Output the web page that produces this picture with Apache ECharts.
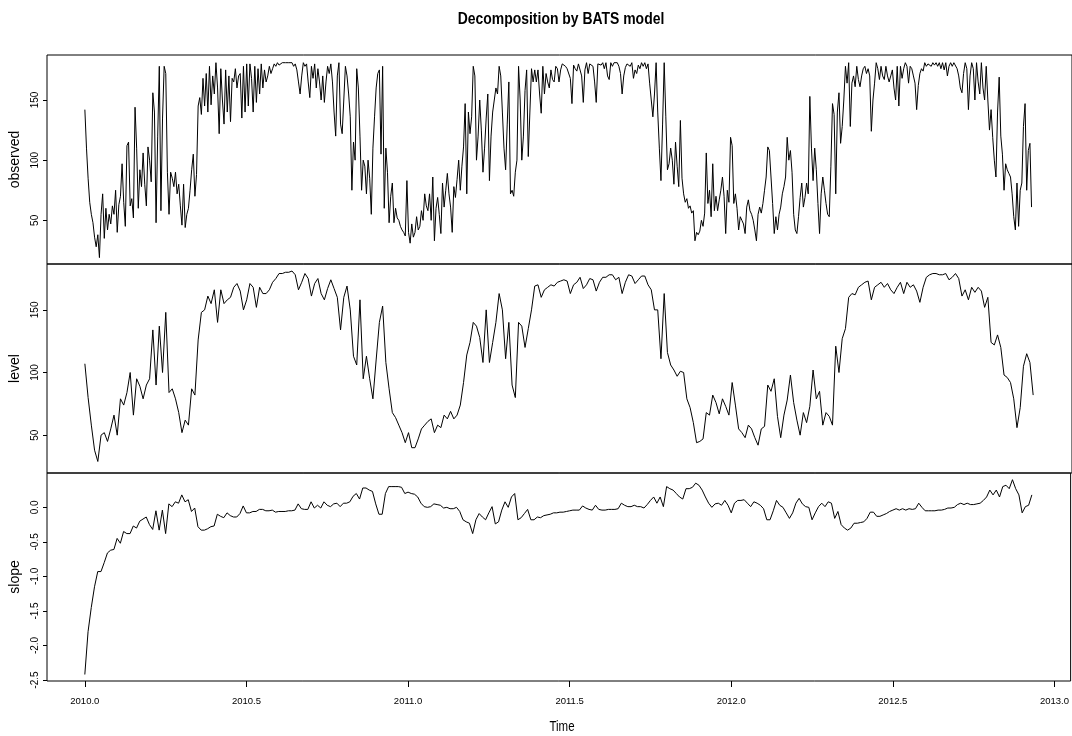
<!DOCTYPE html>
<html><head><meta charset="utf-8">
<script src="https://cdn.jsdelivr.net/npm/echarts@6/dist/echarts.min.js"></script>
<style>html,body{margin:0;padding:0;background:#fff}#c{width:1072px;height:736px}</style>
</head><body><div id="c"></div>
<script>
// time base (daily-ish sampling of the ts, in years)
const startYear = 2010.0;
const obsStep = 0.005;
const compStep = 0.01;

const observed = [
142,110,85,65,55,48,36,28,38,19,
55,72,35,60,42,55,47,62,55,75,
40,63,70,97,65,45,112,115,62,68,
52,144,110,60,92,78,106,80,62,111,
100,82,156,140,48,120,178,58,135,178,
172,90,55,90,85,78,90,72,80,62,
46,80,44,55,60,75,92,105,70,88,
145,152,138,168,145,172,140,178,146,170,
155,181,160,122,176,150,130,175,140,170,
132,168,165,176,160,170,172,135,178,140,
180,145,180,168,140,178,148,176,155,180,
160,175,165,170,178,172,176,180,178,181,
179,180,181,180,181,180,181,180,181,178,
180,175,165,155,170,181,178,180,165,152,
178,168,180,160,176,165,150,170,148,165,
178,172,180,165,140,120,170,181,130,122,
150,178,170,155,
136,75,115,100,176,160,
120,75,100,95,72,100,85,55,110,136,
160,172,175,105,178,60,110,90,48,70,
81,48,60,52,50,45,42,40,37,83,
40,31,47,36,40,53,42,45,58,50,
72,62,58,72,50,86,33,60,69,55,
39,81,61,75,89,72,61,40,78,69,
84,100,75,95,111,147,72,140,122,136,
178,170,100,120,150,125,90,110,135,155,
83,120,140,150,160,155,178,170,140,110,
92,130,165,72,75,70,90,100,178,150,
100,120,158,175,103,140,176,165,175,165,
175,155,139,178,155,172,165,160,175,167,
165,178,176,165,175,180,180,178,176,175,
168,147,179,176,174,180,181,170,148,175,
181,172,180,181,178,165,148,180,181,179,
181,176,181,170,167,181,178,181,180,181,
178,172,155,170,177,180,181,178,181,168,
175,172,179,176,181,178,181,176,180,164,
150,136,155,181,140,110,83,130,181,136,
92,97,110,100,80,115,95,78,133,85,
72,65,68,60,62,56,58,
33,40,38,
41,50,45,56,106,64,75,53,97,58,
70,58,67,75,86,70,39,75,65,119,
112,64,72,60,42,53,50,47,39,61,
67,58,55,50,42,33,55,61,56,64,
75,86,111,108,86,64,39,53,42,55,
61,72,78,86,119,100,108,90,55,42,
39,53,69,81,61,69,81,72,153,110,
83,110,92,64,39,72,86,75,64,55,
53,95,147,138,72,140,156,114,128,150,
178,164,181,128,164,170,161,178,167,161,
170,176,178,172,176,170,124,150,164,181,
176,167,178,170,167,178,170,165,170,175,
160,150,178,145,178,168,176,181,178,164,
178,176,170,164,142,162,172,176,174,181,
178,180,181,178,181,179,181,178,181,176,
181,175,181,170,178,181,178,181,180,176,
170,160,156,172,181,176,142,170,181,176,
150,181,165,155,181,160,150,178,150,
125,142,119,100,86,140,169,120,105,75,97,
92,89,86,72,53,42,81,45,75,81,
128,147,75,108,114,61
];

const level = [
107,80,58,38,29,50,52,45,55,66,
50,79,74,84,100,66,95,89,79,90,
95,134,90,137,100,148,84,87,79,68,
52,62,58,87,82,126,148,150,161,155,
166,140,166,155,158,160,168,171,165,150,
158,171,168,152,168,163,163,166,172,175,
179,179,180,180,181,178,166,172,179,175,
161,171,175,163,158,167,174,167,
160,134,160,169,150,113,106,158,95,113,95,79,
110,140,153,108,87,68,64,58,52,44,
52,40,40,47,55,58,61,63,52,58,
56,66,63,69,63,66,74,92,114,124,
140,137,128,108,150,108,124,140,163,150,
111,140,90,80,140,137,120,135,150,169,
170,160,166,168,170,169,172,173,174,173,
163,170,172,176,167,170,175,174,165,172,
176,176,178,178,174,176,163,172,178,177,
171,174,177,177,170,166,150,150,111,163,
116,106,102,97,101,100,79,72,60,44,
45,47,68,66,82,76,67,79,73,66,
92,74,55,52,48,58,55,48,42,55,
57,90,85,95,65,48,66,78,98,76,
62,50,68,60,73,102,79,85,58,68,
65,58,121,100,127,135,160,163,162,168,
170,172,173,158,168,170,172,168,171,166,
163,168,172,163,172,168,170,165,156,168,
176,178,179,179,178,178,179,174,176,179,
175,161,166,158,168,164,168,165,152,160,
124,122,130,120,98,96,92,79,56,72,
105,115,108,82
];

const slope = [
-2.42,-1.80,-1.45,-1.15,-0.93,-0.93,-0.80,-0.66,-0.62,-0.61,
-0.45,-0.52,-0.35,-0.38,-0.38,-0.27,-0.30,-0.20,-0.17,-0.14,
-0.25,-0.32,-0.05,-0.33,-0.04,-0.38,0.05,0.01,0.08,0.06,
0.18,0.08,0.11,-0.06,-0.01,-0.28,-0.33,-0.33,-0.31,-0.28,
-0.27,-0.10,-0.13,-0.15,-0.08,-0.12,-0.14,-0.14,-0.09,0.02,
-0.08,-0.08,-0.06,-0.06,-0.03,-0.03,-0.05,-0.05,-0.04,-0.07,
-0.06,-0.06,-0.06,-0.05,-0.05,-0.04,0.05,-0.02,-0.03,-0.03,
0.08,-0.01,0.03,-0.01,0.08,0.03,0.01,0.05,
0.06,0.01,0.06,0.06,0.08,0.16,0.20,0.12,0.28,0.28,0.25,0.23,
0.05,-0.10,-0.10,0.20,0.30,0.30,0.30,0.30,0.29,0.20,
0.22,0.20,0.19,0.15,0.06,0.01,0.00,0.01,0.05,0.04,
0.03,-0.01,0.00,-0.02,-0.02,0.00,-0.06,-0.18,-0.21,-0.23,
-0.38,-0.18,-0.09,-0.14,-0.18,-0.08,0.01,-0.24,-0.21,-0.04,
0.08,0.00,0.15,0.20,-0.18,-0.15,-0.09,-0.03,-0.18,-0.18,
-0.14,-0.15,-0.12,-0.11,-0.10,-0.08,-0.08,-0.07,-0.07,-0.06,
-0.05,-0.04,-0.04,-0.04,0.02,-0.01,-0.03,-0.04,0.03,-0.03,
-0.04,-0.04,-0.03,-0.03,-0.03,-0.02,0.06,0.03,0.01,0.01,
0.03,0.01,0.01,-0.01,0.04,0.10,0.15,0.06,0.15,0.01,
0.30,0.27,0.25,0.20,0.15,0.12,0.27,0.27,0.29,
0.35,0.32,0.25,0.15,0.06,0.00,0.05,0.06,0.03,0.10,0.03,
-0.08,0.06,0.10,0.10,0.11,0.06,0.01,0.08,0.06,0.03,
-0.02,-0.18,-0.18,-0.05,0.10,0.03,0.00,-0.08,-0.16,-0.08,
0.06,0.13,0.05,0.01,0.00,-0.18,-0.08,0.01,0.06,0.01,
0.08,0.06,-0.16,-0.06,-0.25,-0.30,-0.33,-0.30,-0.23,-0.23,
-0.22,-0.21,-0.16,-0.07,-0.07,-0.13,-0.13,-0.11,-0.09,-0.06,
-0.04,-0.02,-0.04,-0.02,-0.04,-0.02,-0.03,-0.02,0.06,0.00,
-0.05,-0.05,-0.05,-0.05,-0.04,-0.04,-0.03,-0.01,-0.01,0.00,
0.04,0.06,0.04,0.06,0.04,0.04,0.05,0.06,0.10,0.15,
0.25,0.18,0.25,0.15,0.30,0.32,0.27,0.40,0.27,0.18,
-0.08,0.01,0.03,0.18
];

const xTicks = [2010.0, 2010.5, 2011.0, 2011.5, 2012.0, 2012.5, 2013.0];
const obsTicks = [50, 100, 150];
const levelTicks = [50, 100, 150];
const slopeTicks = [-2.5, -2.0, -1.5, -1.0, -0.5, 0.0];
const panelNames = ['observed', 'level', 'slope'];
const titleText = 'Decomposition by BATS model';
const xName = 'Time';

const regular = "'Liberation Sans',Arial,sans-serif";

const toPairs = (arr, step) => arr.map((v, i) => [startYear + i * step, v]);

const panels = [
  {top: 55, height: 209, min: 13.7, max: 187.4, ticks: obsTicks, fmt: v => String(v)},
  {top: 264, height: 209, min: 19.8, max: 186.6, ticks: levelTicks, fmt: v => String(v)},
  {top: 473, height: 208, min: -2.514, max: 0.497, ticks: slopeTicks, fmt: v => v.toFixed(1)}
];

const chart = echarts.init(document.getElementById('c'), null, {renderer: 'canvas'});
chart.setOption({
  animation: false,
  backgroundColor: '#fff',
  graphic: [
    {type: 'text', x: 561, y: 19, scaleX: 0.82,
     style: {text: titleText, fill: '#000', font: 'bold 17px ' + regular, align: 'center', verticalAlign: 'middle'}},
    {type: 'text', x: 562, y: 727, scaleX: 0.82,
     style: {text: xName, fill: '#000', font: '14px ' + regular, align: 'center', verticalAlign: 'middle'}}
  ],
  grid: panels.map(p => ({left: 47, width: 1032, top: p.top, height: p.height, show: true, borderColor: '#000', borderWidth: 1, backgroundColor: 'transparent', containLabel: false})),
  xAxis: panels.map((p, k) => ({
    type: 'value', gridIndex: k, min: 2009.883, max: 2013.05,
    axisLine: {show: false, onZero: false}, splitLine: {show: false},
    axisTick: {show: k === 2, length: 6, customValues: xTicks, lineStyle: {color: '#000', width: 1}},
    axisLabel: {show: k === 2, customValues: xTicks, formatter: v => v.toFixed(1), margin: 15, fontSize: 9.5, fontFamily: regular, color: '#000'}
  })),
  yAxis: panels.map((p, k) => ({
    type: 'value', gridIndex: k, min: p.min, max: p.max,
    axisLine: {show: false, onZero: false}, splitLine: {show: false},
    axisTick: {show: true, length: 4, customValues: p.ticks, lineStyle: {color: '#000', width: 1}},
    axisLabel: {customValues: p.ticks, formatter: p.fmt, rotate: 90, margin: 7, fontSize: 10, fontFamily: regular, color: '#000'},
    name: panelNames[k], nameLocation: 'middle', nameRotate: 90, nameGap: 25,
    nameTextStyle: {fontSize: 14, fontFamily: regular, color: '#000'}
  })),
  series: [
    {type: 'line', xAxisIndex: 0, yAxisIndex: 0, data: toPairs(observed, obsStep), showSymbol: false, silent: true, lineStyle: {color: '#000', width: 1}},
    {type: 'line', xAxisIndex: 1, yAxisIndex: 1, data: toPairs(level, compStep), showSymbol: false, silent: true, lineStyle: {color: '#000', width: 1}},
    {type: 'line', xAxisIndex: 2, yAxisIndex: 2, data: toPairs(slope, compStep), showSymbol: false, silent: true, lineStyle: {color: '#000', width: 1}}
  ]
});
</script>
</body></html>
